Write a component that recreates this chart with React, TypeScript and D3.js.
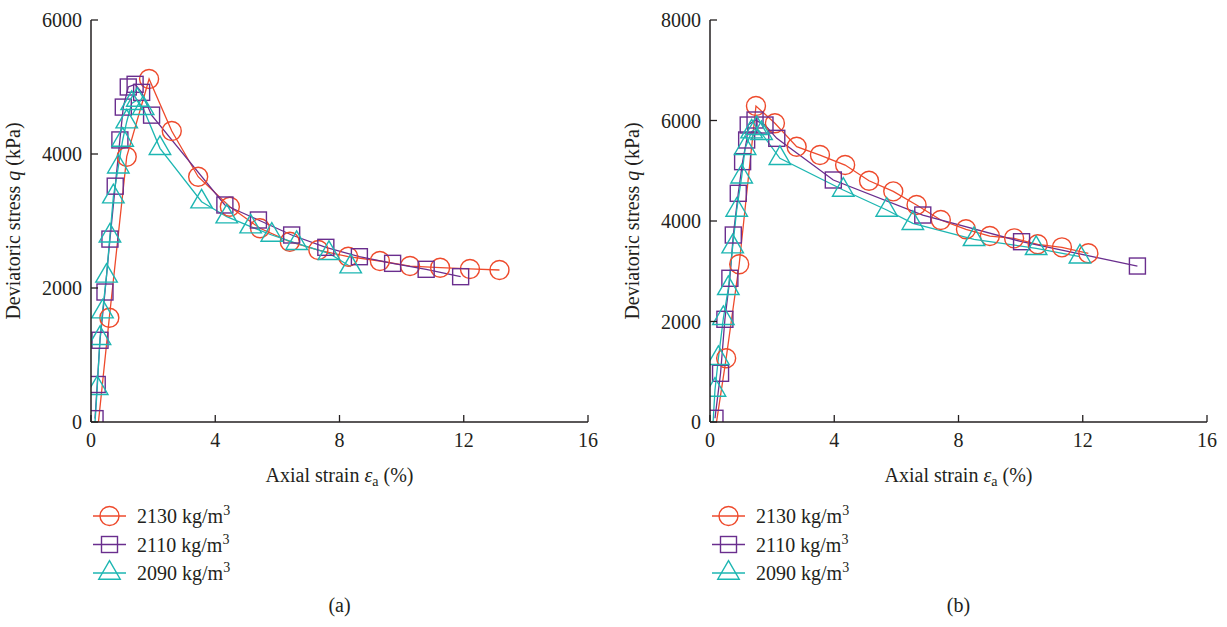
import React from "react";
import * as d3 from "d3";

type P = [number, number];

// Panel (a)
const a2130: P[] = [[0.24, 0], [0.59, 1557], [1.15, 3960], [1.87, 5120], [2.6, 4343], [3.45, 3661], [4.47, 3213], [5.44, 2891], [6.4, 2691], [7.32, 2567], [8.28, 2467], [9.3, 2403], [10.27, 2328], [11.24, 2303], [12.2, 2284], [13.15, 2269]];
const a2110: P[] = [[0.13, 50], [0.2, 560], [0.29, 1220], [0.45, 1940], [0.61, 2730], [0.78, 3520], [0.93, 4210], [1.04, 4700], [1.2, 5000], [1.42, 5040], [1.63, 4920], [1.95, 4580], [4.31, 3239], [5.39, 3015], [6.46, 2791], [7.56, 2607], [8.64, 2467], [9.71, 2368], [10.79, 2279], [11.9, 2169]];
const a2090: P[] = [[0.13, 0], [0.2, 503], [0.29, 1249], [0.37, 1646], [0.5, 2180], [0.61, 2780], [0.72, 3363], [0.88, 3810], [1.02, 4209], [1.15, 4482], [1.31, 4756], [1.49, 4806], [1.68, 4682], [2.22, 4085], [3.56, 3288], [4.37, 3064], [5.14, 2915], [5.82, 2791], [6.62, 2667], [7.66, 2518], [8.36, 2318]];

// Panel (b)
const b2130: P[] = [[0.21, 0], [0.52, 1268], [0.94, 3140], [1.48, 6289], [2.09, 5944], [2.79, 5479], [3.54, 5313], [4.35, 5114], [5.12, 4800], [5.9, 4590], [6.65, 4318], [7.43, 4020], [8.24, 3835], [9.01, 3701], [9.79, 3655], [10.55, 3536], [11.33, 3476], [12.18, 3357]];
const b2110: P[] = [[0.16, 74], [0.34, 969], [0.48, 2044], [0.64, 2860], [0.75, 3721], [0.91, 4551], [1.05, 5181], [1.18, 5612], [1.23, 5910], [1.45, 6010], [1.77, 5910], [2.15, 5645], [3.97, 4816], [6.85, 4119], [10.03, 3588], [13.76, 3104]];
const b2090: P[] = [[0.1, 0], [0.16, 637], [0.27, 1268], [0.43, 2064], [0.59, 2660], [0.73, 3490], [0.86, 4219], [1.02, 4881], [1.13, 5447], [1.34, 5777], [1.5, 5845], [1.66, 5745], [2.25, 5248], [4.29, 4617], [5.69, 4219], [6.53, 3954], [8.5, 3635], [10.5, 3456], [11.91, 3289]];

const xTicks = [0, 4, 8, 12, 16];
const yTicksA = [0, 2000, 4000, 6000];
const yTicksB = [0, 2000, 4000, 6000, 8000];
const seriesNames = ["2130", "2110", "2090"];
const COLORS = ["#ee4a2c", "#6a2e8e", "#1db6b2"];
const FONT = "'Liberation Serif', 'DejaVu Serif', serif";
const AXIS = "#231f20";
const FS = 20;

function Marker({ kind, x, y, color }: { kind: number; x: number; y: number; color: string }) {
  if (kind === 0) return <circle cx={x} cy={y} r={9.5} fill="none" stroke={color} strokeWidth={1.4} />;
  if (kind === 1) return <rect x={x - 8} y={y - 8} width={16} height={16} fill="none" stroke={color} strokeWidth={1.4} />;
  const s = d3.symbol().type(d3.symbolTriangle).size(200)();
  return <path d={s || ""} transform={`translate(${x},${y})`} fill="none" stroke={color} strokeWidth={1.4} />;
}

function Panel({ id, x0, x1, yMax, yTicks, series, caption, ylx }: { id: string; x0: number; x1: number; yMax: number; yTicks: number[]; series: P[][]; caption: string; ylx: number }) {
  const top = 20, bottom = 422;
  const xs = d3.scaleLinear().domain([0, 16]).range([x0, x1]);
  const ys = d3.scaleLinear().domain([0, yMax]).range([bottom, top]);
  const line = d3.line<P>().x(d => xs(d[0])).y(d => ys(d[1]));
  const cx = (x0 + x1) / 2;
  const legX = x0 + 2;
  return (
    <g>
      <defs>
        <clipPath id={"clip" + id}>
          <rect x={x0} y={0} width={x1 - x0 + 30} height={bottom} />
        </clipPath>
      </defs>
      <g clipPath={`url(#clip${id})`}>
        {series.map((s, i) => (
          <path key={"l" + i} d={line(s) || ""} fill="none" stroke={COLORS[i]} strokeWidth={1.3} />
        ))}
        {series.map((s, i) => (
          <g key={"m" + i}>
            {s.filter(d => d[1] > 0).map((d, j) => <Marker key={j} kind={i} x={xs(d[0])} y={ys(d[1])} color={COLORS[i]} />)}
          </g>
        ))}
      </g>
      <line x1={x0} x2={x0} y1={top} y2={bottom} stroke={AXIS} strokeWidth={1.5} />
      <line x1={x0} x2={x1} y1={bottom} y2={bottom} stroke={AXIS} strokeWidth={1.5} />
      {yTicks.map(t => (
        <g key={"y" + t}>
          <line x1={x0} x2={x0 + 7} y1={ys(t)} y2={ys(t)} stroke={AXIS} strokeWidth={1.3} />
          <text x={x0 - 9} y={ys(t)} dy="0.35em" textAnchor="end" fontSize={FS} fontFamily={FONT} fill={AXIS}>{t}</text>
        </g>
      ))}
      {xTicks.map(t => (
        <g key={"x" + t}>
          <line x1={xs(t)} x2={xs(t)} y1={bottom} y2={bottom - 7} stroke={AXIS} strokeWidth={1.3} />
          <text x={xs(t)} y={bottom + 25} textAnchor="middle" fontSize={FS} fontFamily={FONT} fill={AXIS}>{t}</text>
        </g>
      ))}
      <text x={cx} y={482} textAnchor="middle" fontSize={FS} fontFamily={FONT} fill={AXIS}>
        Axial strain <tspan fontStyle="italic">ε</tspan><tspan fontSize={14} dy={4}>a</tspan><tspan dy={-4}> (%)</tspan>
      </text>
      <text transform={`translate(${ylx},${(top + bottom) / 2}) rotate(-90)`} textAnchor="middle" fontSize={FS} fontFamily={FONT} fill={AXIS}>
        Deviatoric stress <tspan fontStyle="italic">q</tspan> (kPa)
      </text>
      {seriesNames.map((n, i) => {
        const y = 516 + i * 28.5;
        return (
          <g key={"lg" + i}>
            <line x1={legX} x2={legX + 33} y1={y} y2={y} stroke={COLORS[i]} strokeWidth={1.3} />
            <Marker kind={i} x={legX + 16.5} y={y} color={COLORS[i]} />
            <text x={legX + 44} y={y} dy="0.35em" fontSize={FS} fontFamily={FONT} fill={AXIS}>
              {n} kg/m<tspan fontSize={14} dy={-8}>3</tspan>
            </text>
          </g>
        );
      })}
      <text x={cx} y={612} textAnchor="middle" fontSize={FS} fontFamily={FONT} fill={AXIS}>{caption}</text>
    </g>
  );
}

export default function App() {
  return (
    <svg width={1227} height={627} style={{ position: "absolute", left: 0, top: 0, background: "#fff" }}>
      <Panel id="a" x0={91} x1={588} yMax={6000} yTicks={yTicksA} series={[a2130, a2110, a2090]} caption="(a)" ylx={20} />
      <Panel id="b" x0={710} x1={1207} yMax={8000} yTicks={yTicksB} series={[b2130, b2110, b2090]} caption="(b)" ylx={639} />
    </svg>
  );
}
